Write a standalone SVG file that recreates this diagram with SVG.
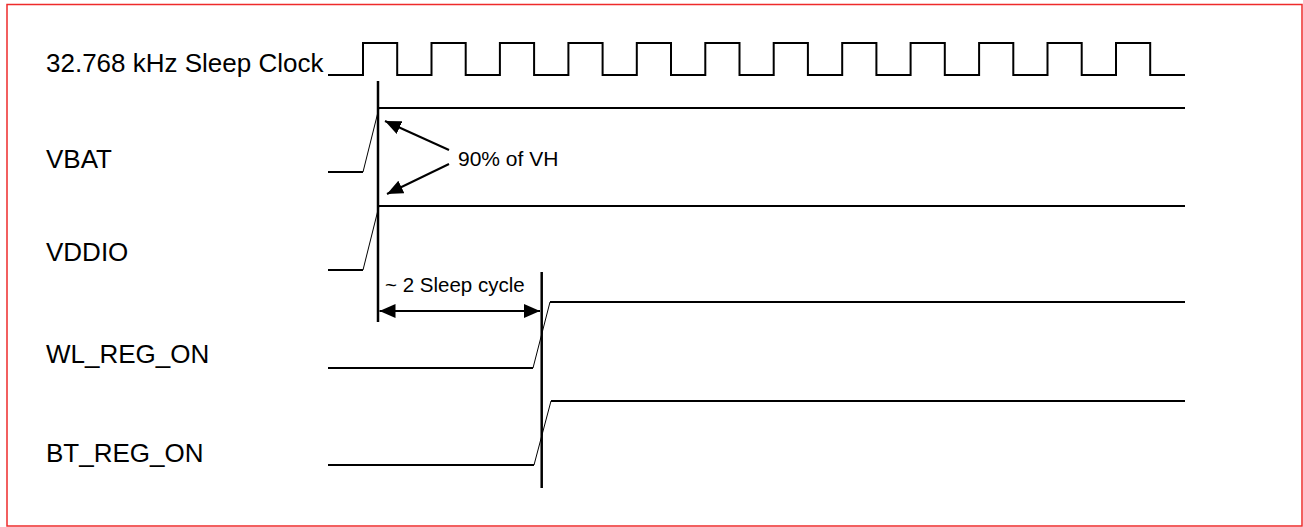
<svg xmlns="http://www.w3.org/2000/svg" width="1303" height="527" viewBox="0 0 1303 527">
<style>
.lbl{font-family:"Liberation Sans",Arial,sans-serif;font-size:26px;fill:#000}
.note{font-family:"Liberation Sans",Arial,sans-serif;font-size:21px;fill:#000}
.wave{fill:none;stroke:#000;stroke-width:2}
.slope{fill:none;stroke:#000;stroke-width:1}
.mark{fill:none;stroke:#000;stroke-width:2.5}
.arr{fill:none;stroke:#000;stroke-width:2}
</style>
<defs>
<marker id="ah" markerUnits="userSpaceOnUse" markerWidth="18" markerHeight="14" refX="16" refY="7" orient="auto-start-reverse" viewBox="0 0 18 14">
<path d="M0,0 L16,7 L0,14 Z" fill="#000"/>
</marker>
</defs>
<rect x="7" y="4.5" width="1295" height="521.5" fill="#fff" stroke="#ee2b2b" stroke-width="1.5"/>
<g id="clock">
<text class="lbl" x="46" y="72">32.768 kHz Sleep Clock</text>
<path class="wave" d="M328,75 H363 V43 H397.2 V75 H431.5 V43 H465.7 V75 H499.9 V43 H534.1 V75 H568.4 V43 H602.6 V75 H636.8 V43 H671 V75 H705.3 V43 H739.5 V75 H773.7 V43 H807.9 V75 H842.2 V43 H876.4 V75 H910.6 V43 H944.8 V75 H979.1 V43 H1013.3 V75 H1047.5 V43 H1081.7 V75 H1116 V43 H1150.2 V75 H1185"/>
</g>
<g id="vbat">
<text class="lbl" x="46" y="168">VBAT</text>
<path class="wave" d="M328,172 H363"/>
<path class="slope" d="M363,172 L379,108"/>
<path class="wave" d="M378,108 H1185"/>
</g>
<g id="vddio">
<text class="lbl" x="46" y="261">VDDIO</text>
<path class="wave" d="M328,270 H363"/>
<path class="slope" d="M363,270 L379,206"/>
<path class="wave" d="M378,206 H1185"/>
</g>
<g id="wl_reg_on">
<text class="lbl" x="46" y="363">WL_REG_ON</text>
<path class="wave" d="M328,368 H533"/>
<path class="slope" d="M533,368 L550,302"/>
<path class="wave" d="M550,302 H1185"/>
</g>
<g id="bt_reg_on">
<text class="lbl" x="46" y="462">BT_REG_ON</text>
<path class="wave" d="M328,465 H534"/>
<path class="slope" d="M534,465 L551,401"/>
<path class="wave" d="M551,401 H1185"/>
</g>
<g id="connectors">
<path class="mark" d="M378,81 V322"/>
<path class="mark" d="M541.7,272 V488"/>
<path class="arr" d="M449,150 L385,121" marker-end="url(#ah)"/>
<path class="arr" d="M449,164 L387,194" marker-end="url(#ah)"/>
<path class="arr" d="M379.5,311 L540,311" marker-start="url(#ah)" marker-end="url(#ah)"/>
</g>
<g id="labels">
<text class="note" x="458" y="166">90% of VH</text>
<text class="note" x="385" y="292" style="font-size:20.5px">~ 2 Sleep cycle</text>
</g>
</svg>
